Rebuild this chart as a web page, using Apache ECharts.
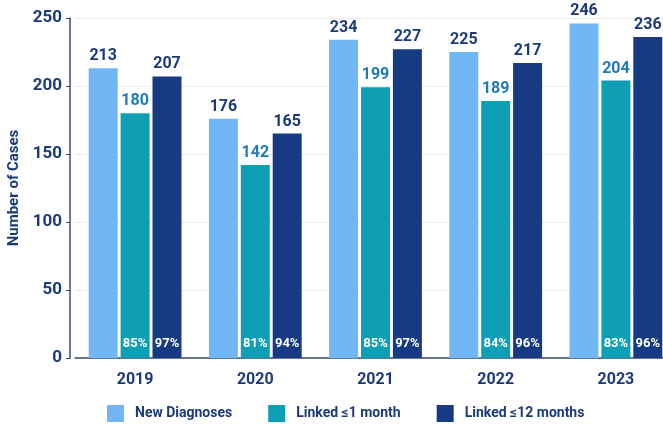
<!DOCTYPE html>
<html>
<head>
<meta charset="utf-8">
<script src="https://cdn.jsdelivr.net/npm/echarts@6/dist/echarts.min.js"></script>
<style>
  html, body { margin: 0; padding: 0; background: #fff; overflow: hidden; }
  /* a bit wider than the window: the last group sits close to the right edge */
  #chart { width: 676px; height: 424px; }
</style>
</head>
<body>
<div id="chart"></div>
<script>
var years = ["2019", "2020", "2021", "2022", "2023"];
var newDiagnoses = [213, 176, 234, 225, 246];
var linked1 = [180, 142, 199, 189, 204];
var linked12 = [207, 165, 227, 217, 236];
var pct1 = ["85%", "81%", "85%", "84%", "83%"];
var pct12 = ["97%", "94%", "97%", "96%", "96%"];
var zeros = [0, 0, 0, 0, 0];

var navy = "#1b3a78";
var font = "Roboto";

var chart = echarts.init(document.getElementById("chart"));

// bars share width, a small gap in each group
var barBase = {
  type: "bar",
  barWidth: 29,
  barGap: "10%",
};

var option = {
  animation: false,
  textStyle: { fontFamily: font },
  grid: { left: 75, right: 0, top: 18, bottom: 66, containLabel: false, outerBoundsMode: "none" },
  legend: {
    data: ["New Diagnoses", "Linked ≤1 month", "Linked ≤12 months"],
    top: 400,
    left: 102,
    itemWidth: 17,
    itemHeight: 17,
    itemGap: 36,
    icon: "rect",
    textStyle: { color: navy, fontSize: 14, fontWeight: "bold", fontFamily: font, padding: [0, 0, 0, 6] },
  },
  xAxis: {
    type: "category",
    data: years,
    axisTick: { show: false },
    axisLine: { lineStyle: { color: "#3e4d6b", width: 1.5 } },
    axisLabel: { color: navy, fontSize: 16, fontWeight: "bold", margin: 14 },
  },
  yAxis: {
    type: "value",
    min: 0,
    max: 250,
    interval: 50,
    offset: 5,
    name: "Number of Cases",
    nameLocation: "middle",
    nameGap: 47,
    nameTextStyle: { color: navy, fontSize: 15, fontWeight: "bold", padding: [0, 0, 0, 0] },
    axisLine: { show: true, lineStyle: { color: "#3e4d6b", width: 1.5 } },
    axisTick: { show: true, length: 4, lineStyle: { color: "#3e4d6b" } },
    axisLabel: { color: navy, fontSize: 17, fontWeight: "bold", margin: 8 },
    splitLine: { lineStyle: { color: "#d5d9e0", type: "dotted" } },
  },
  series: [
    Object.assign({}, barBase, {
      name: "New Diagnoses",
      stack: "a",
      data: newDiagnoses,
      itemStyle: { color: "#72b7f5" },
      label: {
        show: true, position: "top", distance: 4,
        color: navy, fontSize: 16, fontWeight: "bold",
      },
    }),
    Object.assign({}, barBase, {
      name: "Linked ≤1 month",
      stack: "b",
      data: linked1,
      itemStyle: { color: "#0f9fb5" },
      label: {
        show: true, position: "insideBottom", distance: 8,
        color: "#fff", fontSize: 13, fontWeight: "bold",
        formatter: function (p) { return pct1[p.dataIndex]; },
      },
    }),
    Object.assign({}, barBase, {
      name: "l1top",
      stack: "b",
      data: zeros,
      itemStyle: { color: "transparent" },
      label: {
        show: true, position: "top", distance: 4,
        color: "#1b7cb6", fontSize: 16, fontWeight: "bold",
        formatter: function (p) { return linked1[p.dataIndex]; },
      },
    }),
    Object.assign({}, barBase, {
      name: "Linked ≤12 months",
      stack: "c",
      data: linked12,
      itemStyle: { color: "#163b82" },
      label: {
        show: true, position: "insideBottom", distance: 8,
        color: "#fff", fontSize: 13, fontWeight: "bold",
        formatter: function (p) { return pct12[p.dataIndex]; },
      },
    }),
    Object.assign({}, barBase, {
      name: "l12top",
      stack: "c",
      data: zeros,
      itemStyle: { color: "transparent" },
      label: {
        show: true, position: "top", distance: 4,
        color: navy, fontSize: 16, fontWeight: "bold",
        formatter: function (p) { return linked12[p.dataIndex]; },
      },
    }),
  ],
};

chart.setOption(option);
window.addEventListener("resize", function () {
  chart.resize();
});
</script>
</body>
</html>
